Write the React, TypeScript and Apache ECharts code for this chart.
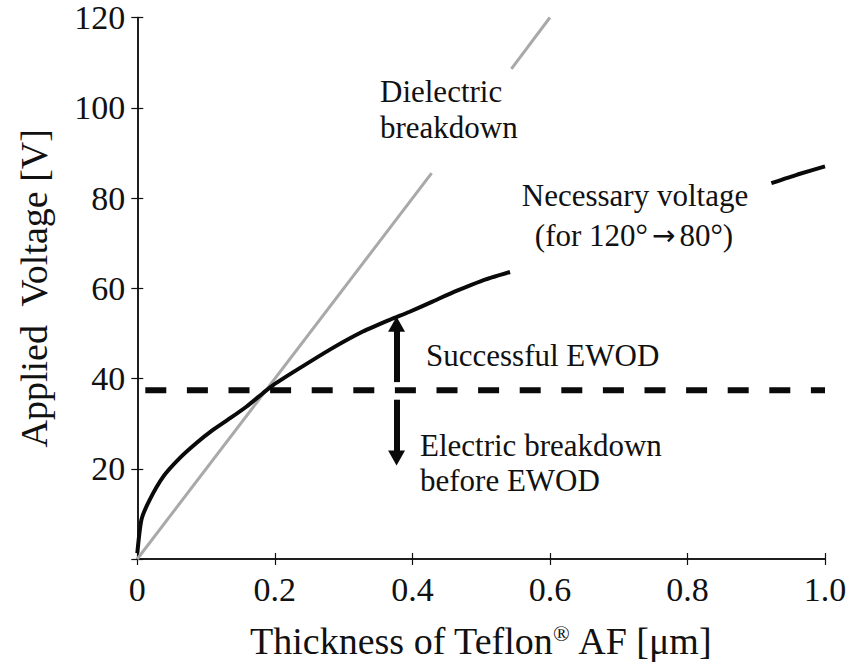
import React, { useEffect, useRef } from "react";
import * as echarts from "echarts";

// ---- data ----
const xTickLabels = ["0", "0.2", "0.4", "0.6", "0.8", "1.0"];
const yTickLabels = ["", "20", "40", "60", "80", "100", "120"];

// Dielectric breakdown line (grey), drawn in two pieces around its label
const breakdownLower: number[][] = [
  [0, 0],
  [0.428, 85.5],
];
const breakdownUpper: number[][] = [
  [0.544, 108.6],
  [0.6, 120],
];

// Necessary voltage curve (black), two pieces around its label
const necessaryLower: number[][] = [
  [0, 1.3],
  [0.006, 8.7],
  [0.018, 13.1],
  [0.038, 18.3],
  [0.062, 22.4],
  [0.086, 25.7],
  [0.11, 28.6],
  [0.135, 31.2],
  [0.159, 33.8],
  [0.183, 36.8],
  [0.198, 38.6],
  [0.232, 41.9],
  [0.28, 46.4],
  [0.328, 50.4],
  [0.367, 53.0],
  [0.396, 54.8],
  [0.43, 57.1],
  [0.464, 59.4],
  [0.5, 61.6],
  [0.542, 63.6],
];
const necessaryUpper: number[][] = [
  [0.922, 83.3],
  [0.96, 85.2],
  [1.0, 87.0],
];

// Threshold (dashed) level
const thresholdLevel = 37.4;
const thresholdLine: number[][] = [
  [0, thresholdLevel],
  [1.0, thresholdLevel],
];

// Double arrow at x = 0.377
const arrowX = 0.377;
const arrowUp = [39.2, 52.0];
const arrowDown = [35.3, 22.4];

const SERIF = "Liberation Serif, DejaVu Serif, serif";

export default function App() {
  const ref = useRef<HTMLDivElement>(null);

  useEffect(() => {
    if (!ref.current) return;
    const chart = echarts.init(ref.current, undefined, { renderer: "svg" });

    const axisLine = { show: true, lineStyle: { color: "#111", width: 1.5 } };
    const axisTick = { show: true, inside: true, length: 6, lineStyle: { color: "#111", width: 1.2 } };

    const anno = (x: number, y: number, text: string, align: string = "left") => ({
      type: "text",
      x,
      y,
      style: {
        text,
        fill: "#111",
        fontFamily: SERIF,
        fontSize: 31,
        textAlign: align,
        textVerticalAlign: "middle",
        rich: {
          arr: { fontFamily: "DejaVu Sans", fontSize: 28, fill: "#111", padding: [0, 4, 0, 4] },
        },
      },
      silent: true,
    });

    const option: any = {
      animation: false,
      backgroundColor: "#ffffff",
      grid: { left: 137.3, right: 25, top: 17.5, bottom: 105.7, containLabel: false },
      xAxis: [
        {
          type: "value",
          min: 0,
          max: 1,
          interval: 0.2,
          position: "bottom",
          axisLine,
          axisTick,
          splitLine: { show: false },
          axisLabel: {
            margin: 13,
            color: "#111",
            fontFamily: SERIF,
            fontSize: 34,
            formatter: (v: number) => xTickLabels[Math.round(v / 0.2)] ?? "",
          },
          name: "Thickness of Teflon{sup|®} AF [μm]",
          nameLocation: "middle",
          nameGap: 63,
          nameTextStyle: {
            color: "#111",
            fontFamily: SERIF,
            fontSize: 38,
            rich: {
              sup: { fontFamily: SERIF, fontSize: 22, verticalAlign: "top", color: "#111", padding: [0, 0, 14, 0] },
            },
          },
        },
        {
          type: "value",
          min: 0,
          max: 1,
          interval: 0.2,
          position: "top",
          axisLine,
          axisTick,
          splitLine: { show: false },
          axisLabel: { show: false },
        },
      ],
      yAxis: [
        {
          type: "value",
          min: 0,
          max: 120,
          interval: 20,
          position: "left",
          axisLine,
          axisTick,
          splitLine: { show: false },
          axisLabel: {
            margin: 12,
            color: "#111",
            fontFamily: SERIF,
            fontSize: 34,
            formatter: (v: number) => yTickLabels[Math.round(v / 20)] ?? "",
          },
          name: "Applied  Voltage [V]",
          nameLocation: "middle",
          nameGap: 84,
          nameTextStyle: { color: "#111", fontFamily: SERIF, fontSize: 38 },
        },
        {
          type: "value",
          min: 0,
          max: 120,
          interval: 20,
          position: "right",
          axisLine,
          axisTick,
          splitLine: { show: false },
          axisLabel: { show: false },
        },
      ],
      series: [
        {
          name: "Dielectric breakdown",
          type: "line",
          data: breakdownLower,
          showSymbol: false,
          lineStyle: { color: "#a9a9a9", width: 3 },
          z: 2,
        },
        {
          name: "Dielectric breakdown (upper)",
          type: "line",
          data: breakdownUpper,
          showSymbol: false,
          lineStyle: { color: "#a9a9a9", width: 3 },
          z: 2,
        },
        {
          name: "Necessary voltage",
          type: "line",
          data: necessaryLower,
          showSymbol: false,
          smooth: 0.2,
          lineStyle: { color: "#0a0a0a", width: 4 },
          z: 3,
        },
        {
          name: "Necessary voltage (upper)",
          type: "line",
          data: necessaryUpper,
          showSymbol: false,
          smooth: 0.2,
          lineStyle: { color: "#0a0a0a", width: 4 },
          z: 3,
        },
        {
          name: "Threshold",
          type: "line",
          data: thresholdLine,
          showSymbol: false,
          lineStyle: { color: "#0a0a0a", width: 6, type: [21, 20.6], dashOffset: -8, cap: "butt" },
          z: 4,
          markLine: {
            silent: true,
            symbol: ["none", "triangle"],
            symbolSize: [17, 15],
            label: { show: false },
            lineStyle: { color: "#0a0a0a", width: 6, type: "solid" },
            data: [
              [{ coord: [arrowX, arrowUp[0]] }, { coord: [arrowX, arrowUp[1]] }],
              [{ coord: [arrowX, arrowDown[0]] }, { coord: [arrowX, arrowDown[1]] }],
            ],
          },
        },
      ],
      graphic: [
        anno(380, 91.5, "Dielectric"),
        anno(380, 127, "breakdown"),
        anno(635, 195.5, "Necessary voltage", "center"),
        anno(634, 235, "(for 120°{arr|→}80°)", "center"),
        anno(426, 355, "Successful EWOD"),
        anno(420, 445, "Electric breakdown"),
        anno(420, 480, "before EWOD"),
      ],
    };

    chart.setOption(option);
    return () => chart.dispose();
  }, []);

  return (
    <div
      ref={ref}
      style={{ position: "absolute", left: 0, top: 0, width: 850, height: 665, background: "#fff" }}
    />
  );
}
